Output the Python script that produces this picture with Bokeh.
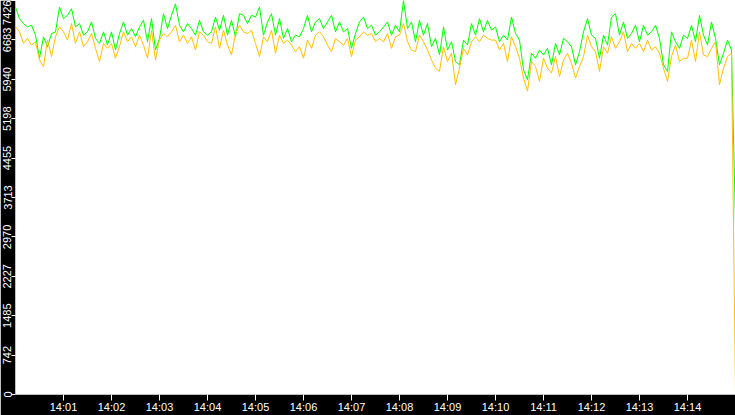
import pandas as pd
from bokeh.plotting import figure
from bokeh.models import FixedTicker, DatetimeTickFormatter, Range1d
from bokeh.embed import file_html
from bokeh.resources import INLINE

# ---- data ----
green_values = [
    7302, 7084, 6991, 6928, 6960, 6773, 6338, 6742, 6555, 6804, 6835, 7302, 7084, 7146, 7271,
    6928, 6991, 6773, 6835, 7022, 6711, 6617, 6835, 6586, 6835, 6493, 6804, 7022, 6773, 6897,
    6742, 6928, 7053, 6649, 7084, 6493, 6711, 7177, 6897, 7146, 7364, 6960, 6835, 6991, 6897,
    6773, 7053, 6835, 6773, 6835, 7115, 6866, 7146, 6773, 7053, 6742, 7177, 7146, 6991, 7146,
    7115, 7302, 6773, 7022, 7177, 6773, 7084, 6711, 6897, 6649, 6773, 6742, 6897, 7146, 6835,
    7022, 7084, 6897, 7022, 7146, 6835, 7022, 6835, 6897, 6524, 6804, 7022, 7115, 6897, 6960,
    6773, 6835, 6928, 7022, 6773, 6960, 6835, 7426, 6897, 7022, 6649, 7053, 6773, 6991, 6555,
    6711, 6400, 6928, 6493, 6649, 6275, 6213, 6680, 6586, 6991, 6773, 7084, 6835, 7053, 6866,
    6928, 6649, 6773, 6680, 7115, 6804, 6680, 6120, 5933, 6431, 6338, 6493, 6400, 6524, 6213,
    6617, 6400, 6711, 6649, 6555, 6213, 6462, 6835, 7084, 6773, 6711, 6338, 6773, 6586, 7115,
    7177, 6773, 7022, 6711, 6804, 6960, 6649, 6960, 6773, 6835, 6960, 6711, 6213, 6089, 6835,
    6649, 6524, 6773, 6711, 6960, 6649, 7146, 6773, 6586, 7022, 6711, 6213, 6431, 6680, 6493,
    3230,
]
yellow_values = [
    6928, 6835, 6617, 6711, 6586, 6649, 6306, 6182, 6680, 6369, 6742, 6928, 6835, 6680, 6991,
    6617, 6835, 6555, 6649, 6804, 6524, 6275, 6617, 6524, 6617, 6338, 6555, 6835, 6649, 6742,
    6555, 6773, 6586, 6338, 6866, 6306, 6680, 6804, 6742, 6835, 6960, 6649, 6773, 6617, 6742,
    6493, 6835, 6773, 6649, 6617, 6928, 6524, 6866, 6586, 6400, 6804, 6960, 6835, 6804, 6866,
    6617, 6369, 6742, 6649, 6866, 6431, 6773, 6617, 6680, 6586, 6462, 6555, 6338, 6680, 6524,
    6773, 6835, 6742, 6586, 6462, 6711, 6649, 6586, 6711, 6369, 6680, 6742, 6835, 6773, 6804,
    6649, 6711, 6649, 6804, 6524, 6742, 6773, 6991, 6649, 6493, 6462, 6773, 6649, 6493, 6306,
    6151, 6089, 6555, 6275, 6431, 5840, 6151, 6524, 6400, 6649, 6742, 6649, 6773, 6711, 6680,
    6680, 6493, 6617, 6275, 6742, 6555, 6338, 5964, 5716, 6275, 6182, 5902, 6338, 6151, 6058,
    6369, 5995, 6306, 6431, 6244, 5964, 6182, 6369, 6773, 6555, 6462, 6089, 6555, 6431, 6742,
    6524, 6649, 6835, 6462, 6617, 6524, 6617, 6462, 6680, 6493, 6555, 6431, 6151, 5902, 6369,
    6586, 6275, 6338, 6338, 6680, 6275, 6835, 6400, 6369, 6524, 6649, 5840, 6151, 6369, 6431,
    0,
]
times = pd.date_range("2024-01-01 14:00:00", periods=len(green_values), freq="5s")

y_ticks = [0, 742.6, 1485.2, 2227.8, 2970.4, 3713.0, 4455.6, 5198.2, 5940.8, 6683.4, 7426]
y_tick_labels = ["0", "742", "1485", "2227", "2970", "3713", "4455", "5198", "5940", "6683", "7426"]
x_tick_times = pd.date_range("2024-01-01 14:01:00", "2024-01-01 14:14:00", freq="1min")

x_start = pd.Timestamp("2024-01-01 14:00:00")
x_end = pd.Timestamp("2024-01-01 14:15:00")

p = figure(
    width=735, height=415,
    x_axis_type="datetime",
    x_range=Range1d(x_start, x_end),
    y_range=Range1d(0, 7426),
    output_backend="svg",
    toolbar_location=None,
    background_fill_color="white",
    border_fill_color="black",
    min_border_left=0, min_border_right=0, min_border_top=0, min_border_bottom=0,
)
p.outline_line_color = None
p.grid.visible = False

p.line(times, green_values, line_color="#00ff00", line_width=1)
p.line(times, yellow_values, line_color="#ffc000", line_width=1)

font = "Liberation Sans"

ya = p.yaxis[0]
ya.ticker = FixedTicker(ticks=y_ticks)
ya.major_label_overrides = {t: l for t, l in zip(y_ticks, y_tick_labels)}
ya.major_label_orientation = "vertical"
ya.major_label_text_color = "white"
ya.major_label_text_font = font
ya.major_label_text_font_size = "11px"
ya.major_label_standoff = 0
ya.major_tick_out = 4
ya.major_tick_in = 0
ya.major_tick_line_color = "white"
ya.minor_tick_line_color = None
ya.axis_line_color = None
ya.axis_label_standoff = 0

xa = p.xaxis[0]
xa.ticker = FixedTicker(ticks=[t.value / 1e6 for t in x_tick_times])
xa.formatter = DatetimeTickFormatter(minutes="%H:%M", minsec="%H:%M", hourmin="%H:%M", seconds="%H:%M")
xa.major_label_text_color = "white"
xa.major_label_text_font = font
xa.major_label_text_font_size = "11px"
xa.major_label_text_line_height = 0.8
xa.major_label_standoff = 0
xa.major_tick_out = 6
xa.major_tick_in = 0
xa.major_tick_line_color = "white"
xa.minor_tick_line_color = None
xa.axis_line_color = None
xa.axis_label_standoff = 0

open("out.html", "w").write(file_html(p, INLINE))
